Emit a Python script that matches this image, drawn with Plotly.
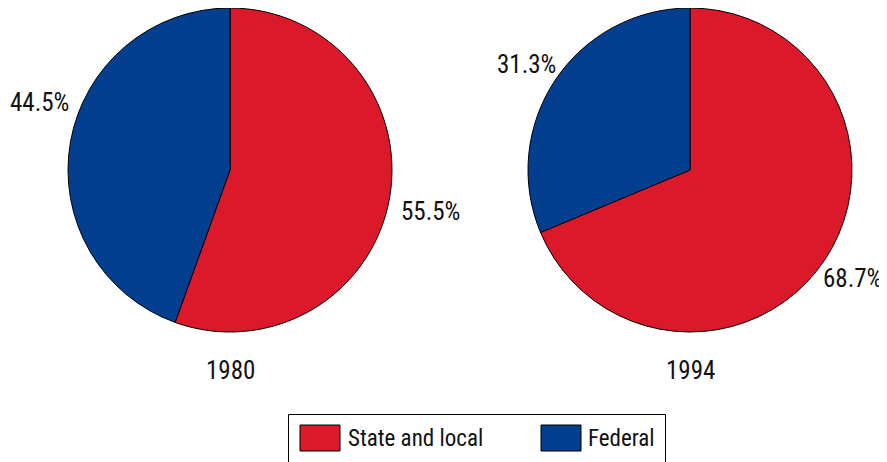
import plotly.graph_objects as go

categories = ["State and local", "Federal"]
years = ["1980", "1994"]
values_1980 = [55.5, 44.5]
values_1994 = [68.7, 31.3]
colors = ["#DC182B", "#043E8E"]

W, H = 887, 462
OFF = 8  # page body margin offset
FONT = "Liberation Sans Narrow, Roboto Condensed, Arial Narrow, Roboto, sans-serif"

def px_x(x):
    return (x - OFF) / W

def px_y(y):
    return 1 - (y - OFF) / H

fig = go.Figure()

pie_specs = [
    (values_1980, (230, 170)),
    (values_1994, (690, 170)),
]
R = 162
for vals, (cx, cy) in pie_specs:
    fig.add_trace(go.Pie(
        labels=categories,
        values=vals,
        marker=dict(colors=colors, line=dict(color="#000000", width=1)),
        sort=False,
        direction="clockwise",
        rotation=0,
        textinfo="none",
        hoverinfo="label+percent",
        showlegend=False,
        domain=dict(x=[px_x(cx - R), px_x(cx + R)],
                    y=[max(0, px_y(cy + R)), min(1, px_y(cy - R))]),
    ))

FS_NUM = 25
FS_LEG = 23
annotations = []
label_pos = [
    [(430, 211), (39, 102)],
    [(852, 278), (526, 64)],
]
for vals, positions in zip([values_1980, values_1994], label_pos):
    for v, (x, y) in zip(vals, positions):
        annotations.append(dict(
            x=px_x(x), y=px_y(y), xref="paper", yref="paper",
            text=f"{v:.1f}%", showarrow=False,
            font=dict(family=FONT, size=FS_NUM, color="#111111"),
            xanchor="center", yanchor="middle",
        ))
for yr, x in zip(years, [230, 690]):
    annotations.append(dict(
        x=px_x(x), y=px_y(370), xref="paper", yref="paper",
        text=yr, showarrow=False,
        font=dict(family=FONT, size=FS_NUM, color="#111111"),
        xanchor="center", yanchor="middle",
    ))

shapes = [
    dict(type="rect", xref="paper", yref="paper",
         x0=px_x(288.5), x1=px_x(665.5), y0=px_y(470), y1=px_y(414.5),
         line=dict(color="#000000", width=1), fillcolor="rgba(0,0,0,0)"),
]
legend_x = [(300, 346), (541, 586)]
for cat, col, (sx, tx) in zip(categories, colors, legend_x):
    shapes.append(dict(type="rect", xref="paper", yref="paper",
                       x0=px_x(sx), x1=px_x(sx + 40), y0=px_y(451), y1=px_y(425),
                       line=dict(color="#000000", width=1), fillcolor=col))
    annotations.append(dict(
        x=px_x(tx), y=px_y(438), xref="paper", yref="paper",
        text=cat, showarrow=False,
        font=dict(family=FONT, size=FS_LEG, color="#111111"),
        xanchor="left", yanchor="middle",
    ))

fig.update_layout(
    width=W, height=H,
    margin=dict(l=0, r=0, t=0, b=0),
    paper_bgcolor="white", plot_bgcolor="white",
    annotations=annotations, shapes=shapes,
    showlegend=False,
)

fig.write_html("out.html")
